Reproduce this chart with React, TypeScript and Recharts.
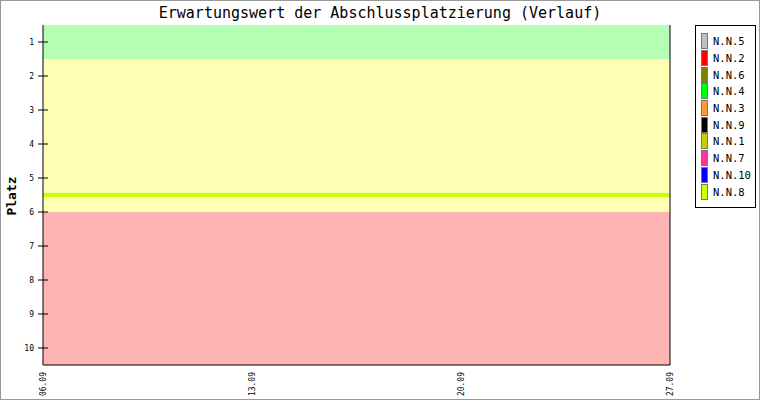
import { LineChart, Line, XAxis, YAxis, ReferenceArea } from "recharts";

// days after 06.09
const days = [0, 1, 2, 3, 4, 5, 6, 7, 8, 9, 10, 11, 12, 13, 14, 15, 16, 17, 18, 19, 20, 21];
const nn8 = [5.5, 5.5, 5.5, 5.5, 5.5, 5.5, 5.5, 5.5, 5.5, 5.5, 5.5, 5.5, 5.5, 5.5, 5.5, 5.5, 5.5, 5.5, 5.5, 5.5, 5.5, 5.5];

const xTicks = [0, 7, 14, 21];
const xTickLabels = ["06.09", "13.09", "20.09", "27.09"];
const yTicks = [1, 2, 3, 4, 5, 6, 7, 8, 9, 10];

const players = ["N.N.5", "N.N.2", "N.N.6", "N.N.4", "N.N.3", "N.N.9", "N.N.1", "N.N.7", "N.N.10", "N.N.8"];
const playerColors = ["#c0c0c0", "#ff0000", "#808000", "#00ff00", "#ff9933", "#000000", "#cccc00", "#ff3399", "#0000ff", "#ccff00"];

const data = days.map((d, i) => ({ day: d, nn8: nn8[i] }));

const FONT = "'DejaVu Sans Mono', 'Liberation Mono', monospace";

const LeftTick = ({ x, y, payload }: any) => (
  <g>
    <line x1={x - 5} x2={x + 5} y1={y} y2={y} stroke="#000" />
    <text x={x - 9} y={y + 3} textAnchor="end" fontSize={8} fontFamily={FONT} fill="#000">
      {payload.value}
    </text>
  </g>
);

const RightTick = ({ x, y, payload }: any) => (
  <g>
    <line x1={x - 5} x2={x + 5} y1={y} y2={y} stroke="#000" />
    <text x={x + 9} y={y + 3} textAnchor="start" fontSize={8} fontFamily={FONT} fill="#000">
      {payload.value}
    </text>
  </g>
);

const DateTick = ({ x, y, payload }: any) => {
  const label = xTickLabels[xTicks.indexOf(payload.value)];
  return (
    <text
      x={0}
      y={0}
      transform={`translate(${x + 3},${y - 1}) rotate(-90)`}
      textAnchor="end"
      fontSize={8}
      fontFamily={FONT}
      fill="#000"
    >
      {label}
    </text>
  );
};

const PlayerLegend = () => (
  <div
    style={{
      position: "absolute",
      left: 695,
      top: 25,
      border: "1px solid #000",
      background: "#fff",
      width: 61,
      padding: "7px 0 7px 5px",
      boxSizing: "border-box",
      fontFamily: FONT,
      fontSize: 10.5,
    }}
  >
    {players.map((p, i) => (
      <div key={p} style={{ display: "flex", alignItems: "center", height: 16.7, whiteSpace: "nowrap" }}>
        <span
          style={{
            display: "inline-block",
            flexShrink: 0,
            width: 5,
            height: 14,
            background: playerColors[i],
            border: "1px solid #777",
            marginRight: 5,
          }}
        />
        <span>{p}</span>
      </div>
    ))}
  </div>
);

export default function App() {
  return (
    <div style={{ position: "relative", width: 760, height: 400, background: "#fff" }}>
      <style>{"body{margin:0}"}</style>
      <LineChart width={760} height={400} data={data} margin={{ top: 25, right: 0, bottom: 0, left: 0 }}>
        <XAxis
          dataKey="day"
          type="number"
          domain={[0, 21]}
          ticks={xTicks}
          tick={<DateTick />}
          tickLine={false}
          axisLine={{ stroke: "#000" }}
          height={35}
          interval={0}
        />
        <YAxis
          yAxisId="l"
          type="number"
          domain={[0.5, 10.5]}
          reversed
          ticks={yTicks}
          tick={<LeftTick />}
          tickSize={0}
          tickMargin={0}
          tickLine={false}
          axisLine={{ stroke: "#000" }}
          width={43}
          interval={0}
        />
        <YAxis
          yAxisId="r"
          orientation="right"
          type="number"
          domain={[0.5, 10.5]}
          reversed
          ticks={yTicks}
          tick={<RightTick />}
          tickSize={0}
          tickMargin={0}
          tickLine={false}
          axisLine={{ stroke: "#000" }}
          width={90}
          interval={0}
        />
        <ReferenceArea yAxisId="l" y1={0.5} y2={1.5} fill="#b4ffb4" fillOpacity={1} stroke="none" />
        <ReferenceArea yAxisId="l" y1={1.5} y2={6} fill="#ffffb4" fillOpacity={1} stroke="none" />
        <ReferenceArea yAxisId="l" y1={6} y2={10.5} fill="#ffb4b4" fillOpacity={1} stroke="none" />
        <Line
          yAxisId="l"
          type="linear"
          dataKey="nn8"
          name="N.N.8"
          stroke="#ccff00"
          strokeWidth={4}
          dot={false}
          isAnimationActive={false}
        />
        <text x={380} y={18} textAnchor="middle" fontSize={15} fontFamily={FONT} fill="#000">
          Erwartungswert der Abschlussplatzierung (Verlauf)
        </text>
        <text
          x={0}
          y={0}
          transform="translate(16,196) rotate(-90)"
          textAnchor="middle"
          fontSize={13}
          fontWeight="bold"
          fontFamily={FONT}
          fill="#000"
        >
          Platz
        </text>
      </LineChart>
      <PlayerLegend />
      <div
        style={{
          position: "absolute",
          inset: 0,
          border: "1px solid #999",
          pointerEvents: "none",
        }}
      />
    </div>
  );
}
